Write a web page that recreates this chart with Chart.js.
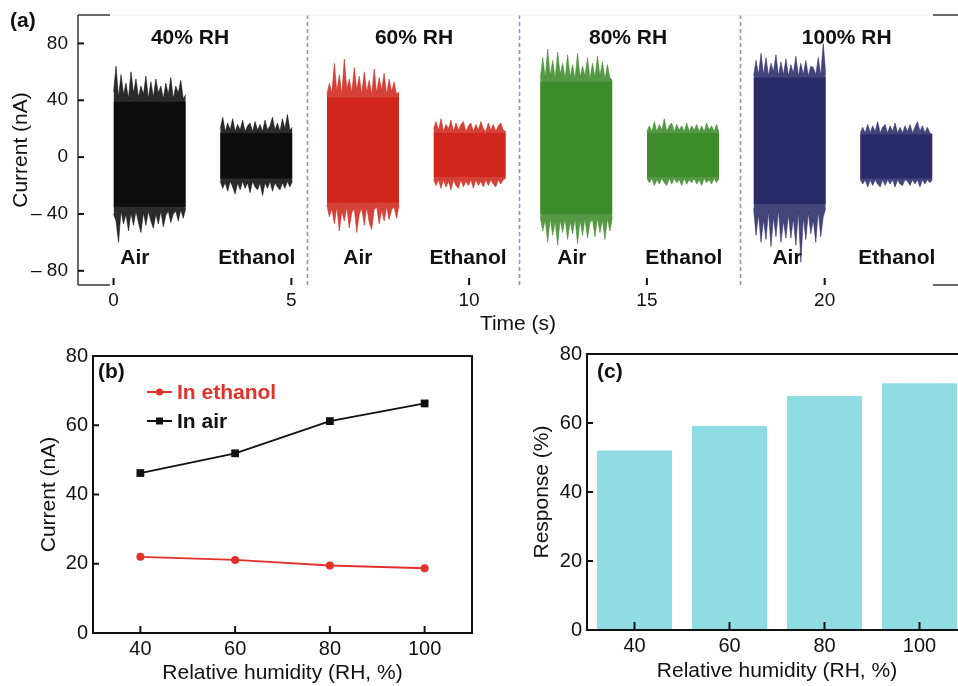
<!DOCTYPE html>
<html><head><meta charset="utf-8">
<script src="https://cdn.jsdelivr.net/npm/chart.js@4.4.1/dist/chart.umd.min.js"></script>
<style>
html,body{margin:0;padding:0;overflow:hidden;background:#fff}
body{width:958px;height:686px;position:relative}
.box{position:absolute}
</style></head><body>
<div class="box" style="left:0;top:0;width:958px;height:340px"><canvas id="ca"></canvas></div>
<div class="box" style="left:0;top:340px;width:480px;height:346px"><canvas id="cb"></canvas></div>
<div class="box" style="left:480px;top:340px;width:487px;height:346px"><canvas id="cc"></canvas></div>
<script>
// ---------------- DATA ----------------
// Panel (a): time axis / current axis ticks
const timeTicks = [0, 5, 10, 15, 20];
const currentTicksA = [-80, -40, 0, 40, 80];
const rhNames = ['40% RH', '60% RH', '80% RH', '100% RH'];
const segStart = [0, 3, 6, 9, 12, 15, 18, 21];   // s, start of each recording (Air, Ethanol per RH)
const segDur = 2.03;                                // s
const separatorT = [5.44, 11.40, 17.61];            // s, dashed separators

// envelopes of the noisy current traces (nA)
const air40Up = [46,64,42,58,44,52,41,60,45,55,42,50,44,57,41,53,42,55,45,50,41,52,44,56,41,50,45,54,41,44];
const air40Lo = [-40,-45,-60,-38,-47,-40,-52,-39,-48,-38,-46,-53,-39,-48,-38,-45,-50,-40,-47,-38,-49,-41,-38,-46,-40,-38,-45,-37,-43,-36];
const air40Core = [-35, 39];
const eth40Up = [20,28,18,24,19,27,18,23,19,26,18,22,24,18,25,19,23,18,26,19,22,28,19,24,18,27,20,30,19,21];
const eth40Lo = [-17,-22,-18,-24,-17,-21,-26,-18,-23,-17,-22,-18,-25,-17,-21,-23,-18,-27,-18,-22,-17,-24,-18,-21,-23,-18,-22,-17,-21,-17];
const eth40Core = [-15, 17];
const air60Up = [44,52,45,66,46,58,44,69,48,55,45,63,47,57,44,60,46,54,44,62,45,56,47,59,44,55,46,53,44,46];
const air60Lo = [-34,-42,-36,-47,-35,-52,-38,-45,-35,-50,-39,-36,-53,-40,-36,-48,-35,-46,-51,-37,-35,-47,-37,-45,-35,-44,-37,-35,-43,-34];
const air60Core = [-32, 42];
const eth60Up = [20,25,19,27,18,23,20,26,18,24,19,23,25,18,22,24,18,23,19,25,20,18,24,19,23,18,22,24,19,18];
const eth60Lo = [-16,-20,-16,-22,-16,-21,-17,-23,-16,-20,-22,-16,-21,-17,-20,-16,-22,-16,-20,-17,-21,-16,-20,-16,-19,-21,-16,-19,-16,-15];
const eth60Core = [-14, 17];
const air80Up = [55,70,56,76,57,68,55,74,58,66,55,72,56,65,55,73,56,64,57,70,55,66,56,71,57,67,55,65,56,54];
const air80Lo = [-42,-52,-44,-60,-43,-55,-45,-62,-44,-53,-43,-58,-45,-54,-43,-61,-44,-55,-43,-57,-46,-44,-56,-43,-53,-44,-58,-43,-52,-42];
const air80Core = [-40, 53];
const eth80Up = [18,22,18,25,18,23,19,27,18,22,24,18,23,19,22,18,24,18,22,19,23,18,22,18,24,19,22,18,23,17];
const eth80Lo = [-15,-18,-15,-20,-16,-19,-15,-18,-20,-15,-19,-15,-18,-16,-20,-15,-19,-16,-18,-15,-19,-16,-20,-15,-18,-16,-19,-15,-18,-15];
const eth80Core = [-14, 17];
const air100Up = [57,68,58,73,58,70,57,66,60,72,57,67,58,69,57,65,59,71,57,66,58,68,57,64,63,58,70,57,80,58];
const air100Lo = [-36,-55,-40,-60,-44,-58,-38,-63,-42,-56,-37,-60,-45,-57,-40,-57,-43,-62,-38,-74,-42,-58,-39,-54,-44,-60,-38,-56,-42,-36];
const air100Core = [-33, 56];
const eth100Up = [17,21,17,23,17,22,18,25,17,21,23,17,22,18,24,17,21,17,22,18,23,17,21,25,18,22,17,21,17,16];
const eth100Lo = [-16,-19,-16,-21,-16,-20,-16,-19,-21,-16,-20,-16,-19,-16,-21,-16,-19,-20,-16,-17,-20,-16,-19,-16,-21,-16,-19,-16,-18,-16];
const eth100Core = [-15, 16];

// Panel (b)
const rh = [40, 60, 80, 100];
const currentEthanol = [22.0, 21.1, 19.5, 18.7];
const currentAir = [46.2, 51.9, 61.2, 66.3];
const currentTicksB = [0, 20, 40, 60, 80];
const rhTicks = [40, 60, 80, 100];

// Panel (c)
const response = [52.0, 59.1, 67.8, 71.5];
const responseTicks = [0, 20, 40, 60, 80];

// ---------------- STYLE ----------------
const FONT = "'Liberation Sans', Arial, Helvetica, sans-serif";
Chart.defaults.font.family = FONT;
Chart.defaults.color = '#111';
Chart.defaults.animation = false;
const rhColors = ['#0e0e0e', '#d0271d', '#3e8b2b', '#2b2a69'];
function rgba(hex, a) {
  const n = parseInt(hex.slice(1), 16);
  return `rgba(${(n >> 16) & 255},${(n >> 8) & 255},${n & 255},${a})`;
}
function setTicks(arr) { return s => { s.ticks = arr.map(v => ({ value: v })); }; }
function fixSize(prop, val) {
  return s => { s[prop] = val; s.paddingTop = 0; s.paddingBottom = 0; s.paddingLeft = 0; s.paddingRight = 0; };
}

const decor = {
  id: 'decor',
  afterDraw(chart, args, o) {
    const { ctx, chartArea: a, scales: { x, y } } = chart;
    const line = (x1, y1, x2, y2) => { ctx.beginPath(); ctx.moveTo(x1, y1); ctx.lineTo(x2, y2); ctx.stroke(); };
    ctx.save();
    if (o.separators) {
      ctx.strokeStyle = '#7d9cc2'; ctx.lineWidth = 1.6; ctx.setLineDash([4, 3]);
      o.separators.forEach(t => { const px = Math.round(x.getPixelForValue(t)) + 0.5; line(px, a.top, px, a.bottom); });
      ctx.setLineDash([]);
    }
    if (o.frame === 'a') {
      ctx.strokeStyle = '#eeeeee'; ctx.lineWidth = 1;
      line(a.left + 32, a.top, a.right - 25, a.top);
      ctx.strokeStyle = '#444'; ctx.lineWidth = 1.6;
      line(a.left, a.top, a.left, a.bottom);
      line(a.left, a.top, a.left + 32, a.top);
      line(a.left, a.bottom, a.left + 32, a.bottom);
      line(a.right - 25, a.top, a.right, a.top);
      line(a.right - 25, a.bottom, a.right, a.bottom);
    } else if (o.frame === 'box') {
      ctx.strokeStyle = '#111'; ctx.lineWidth = 2;
      ctx.strokeRect(a.left, a.top, a.right - a.left, a.bottom - a.top);
    }
    ctx.strokeStyle = '#111'; ctx.lineWidth = 2;
    y.ticks.forEach(t => { const py = y.getPixelForValue(t.value); line(a.left, py, a.left + o.tickY, py); });
    x.ticks.forEach(t => { const px = x.getPixelForValue(t.value); line(px, a.bottom, px, a.bottom - o.tickX); });
    (o.texts || []).forEach(tx => {
      ctx.font = `bold 21px ${FONT}`;
      ctx.fillStyle = tx.color || '#111';
      ctx.textAlign = tx.align || 'center';
      ctx.textBaseline = 'middle';
      const px = tx.px !== undefined ? tx.px : x.getPixelForValue(tx.x);
      const py = tx.py !== undefined ? tx.py : y.getPixelForValue(tx.y);
      ctx.fillText(tx.text, px, py);
    });
    (o.legend || []).forEach(lg => {
      const ds = chart.data.datasets[lg.index];
      ctx.strokeStyle = ds.borderColor; ctx.lineWidth = 2;
      line(lg.px, lg.py, lg.px + 25, lg.py);
      ctx.fillStyle = ds.borderColor;
      if (ds.pointStyle === 'rect') ctx.fillRect(lg.px + 9, lg.py - 3.5, 7, 7);
      else { ctx.beginPath(); ctx.arc(lg.px + 12.5, lg.py, 3.5, 0, Math.PI * 2); ctx.fill(); }
      ctx.font = `bold 21px ${FONT}`;
      ctx.textAlign = 'left'; ctx.textBaseline = 'middle';
      ctx.fillText(ds.label, lg.px + 30, lg.py + 1);
    });
    ctx.restore();
  }
};
Chart.register(decor);

// ---------------- PANEL (a) ----------------
const segments = [
  [air40Up, air40Lo, air40Core], [eth40Up, eth40Lo, eth40Core],
  [air60Up, air60Lo, air60Core], [eth60Up, eth60Lo, eth60Core],
  [air80Up, air80Lo, air80Core], [eth80Up, eth80Lo, eth80Core],
  [air100Up, air100Lo, air100Core], [eth100Up, eth100Lo, eth100Core]
];
const dsA = [];
segments.forEach((seg, k) => {
  const start = segStart[k], col = rhColors[Math.floor(k / 2)];
  const env = arr => arr.map((v, i) => ({ x: start + segDur * i / (arr.length - 1), y: v }));
  const flat = v => [{ x: start, y: v }, { x: start + segDur, y: v }];
  const base = { pointRadius: 0, tension: 0, borderWidth: 0.8 };
  dsA.push({ ...base, data: env(seg[0]), borderColor: rgba(col, 0.7), backgroundColor: rgba(col, 0.88), fill: '+1' });
  dsA.push({ ...base, data: env(seg[1]), borderColor: rgba(col, 0.7), fill: false });
  dsA.push({ ...base, data: flat(seg[2][1]), borderWidth: 0, borderColor: col, backgroundColor: col, fill: '+1' });
  dsA.push({ ...base, data: flat(seg[2][0]), borderWidth: 0, borderColor: col, fill: false });
});
const textsA = [];
rhNames.forEach((n, i) => {
  textsA.push({ text: n, x: [2.15, 8.45, 14.47, 20.62][i], y: 83.5 });
  textsA.push({ text: 'Air', x: [0.6, 6.87, 12.89, 18.94][i], y: -71 });
  textsA.push({ text: 'Ethanol', x: [4.03, 9.97, 16.04, 22.03][i], y: -71 });
});
textsA.push({ text: '(a)', px: 10, py: 21, align: 'left' });

new Chart(document.getElementById('ca'), {
  type: 'line',
  data: { datasets: dsA },
  options: {
    responsive: true, maintainAspectRatio: false, devicePixelRatio: 1,
    parsing: false, normalized: true,
    layout: { padding: { top: 15, left: 0, right: 0, bottom: 0 } },
    plugins: { legend: { display: false }, tooltip: { enabled: false },
      decor: { frame: 'a', separators: separatorT, tickX: 7, tickY: 6, texts: textsA } },
    events: [],
    scales: {
      x: { type: 'linear', min: -1, max: 23.75, afterBuildTicks: setTicks(timeTicks),
        grid: { display: false, drawTicks: false }, border: { display: false },
        ticks: { padding: 4, font: { size: 19 }, color: '#111' },
        title: { display: true, text: 'Time (s)', font: { size: 21 }, color: '#111', padding: { top: 0, bottom: 3 } },
        afterFit: fixSize('height', 55) },
      y: { type: 'linear', min: -90, max: 100, afterBuildTicks: setTicks(currentTicksA),
        grid: { display: false, drawTicks: false }, border: { display: false },
        ticks: { padding: 10, font: { size: 19 }, color: '#111',
          callback: v => v < 0 ? '\u2013 ' + Math.abs(v) : String(v) },
        title: { display: true, text: 'Current (nA)', font: { size: 21 }, color: '#111', padding: { top: 9, bottom: 0 } },
        afterFit: fixSize('width', 78) }
    }
  }
});

// ---------------- PANEL (b) ----------------
new Chart(document.getElementById('cb'), {
  type: 'line',
  data: { datasets: [
    { label: 'In ethanol', data: rh.map((v, i) => ({ x: v, y: currentEthanol[i] })),
      borderColor: '#e2312a', backgroundColor: '#e2312a', borderWidth: 1.8,
      pointStyle: 'circle', pointRadius: 4, pointBorderWidth: 0, tension: 0 },
    { label: 'In air', data: rh.map((v, i) => ({ x: v, y: currentAir[i] })),
      borderColor: '#111111', backgroundColor: '#111111', borderWidth: 1.8,
      pointStyle: 'rect', pointRadius: 5.5, pointBorderWidth: 0, tension: 0 }
  ] },
  options: {
    responsive: true, maintainAspectRatio: false, devicePixelRatio: 1, events: [],
    layout: { padding: { top: 16, left: 0, right: 8, bottom: 0 } },
    plugins: { legend: { display: false }, tooltip: { enabled: false },
      decor: { frame: 'box', tickX: 7, tickY: 6,
        texts: [{ text: '(b)', px: 98, py: 32, align: 'left' }],
        legend: [{ index: 0, px: 147, py: 52 }, { index: 1, px: 147, py: 81 }] } },
    scales: {
      x: { type: 'linear', min: 30, max: 110, afterBuildTicks: setTicks(rhTicks),
        grid: { display: false, drawTicks: false }, border: { display: false },
        ticks: { padding: 4, font: { size: 20 }, color: '#111' },
        title: { display: true, text: 'Relative humidity (RH, %)', font: { size: 21 }, color: '#111', padding: { top: 0, bottom: 0 } },
        afterFit: fixSize('height', 53) },
      y: { type: 'linear', min: 0, max: 80, afterBuildTicks: setTicks(currentTicksB),
        grid: { display: false, drawTicks: false }, border: { display: false },
        ticks: { padding: 5, font: { size: 20 }, color: '#111' },
        title: { display: true, text: 'Current (nA)', font: { size: 21 }, color: '#111', padding: { top: 37, bottom: 0 } },
        afterFit: fixSize('width', 93) }
    }
  }
});

// ---------------- PANEL (c) ----------------
new Chart(document.getElementById('cc'), {
  type: 'bar',
  data: { datasets: [
    { label: 'Response', data: rh.map((v, i) => ({ x: v, y: response[i] })),
      backgroundColor: '#8fdce2', borderWidth: 0, categoryPercentage: 1, barPercentage: 0.79 }
  ] },
  options: {
    responsive: true, maintainAspectRatio: false, devicePixelRatio: 1, events: [],
    layout: { padding: { top: 14, left: 0, right: 0, bottom: 0 } },
    plugins: { legend: { display: false }, tooltip: { enabled: false },
      decor: { frame: 'box', tickX: 8, tickY: 6,
        texts: [{ text: '(c)', px: 117, py: 32, align: 'left' }] } },
    scales: {
      x: { type: 'linear', offset: false, min: 30, max: 110, afterBuildTicks: setTicks(rhTicks),
        grid: { display: false, drawTicks: false, offset: false }, border: { display: false },
        ticks: { padding: 4, font: { size: 20 }, color: '#111' },
        title: { display: true, text: 'Relative humidity (RH, %)', font: { size: 21 }, color: '#111', padding: { top: 0, bottom: 2 } },
        afterFit: fixSize('height', 56) },
      y: { type: 'linear', min: 0, max: 80, afterBuildTicks: setTicks(responseTicks),
        grid: { display: false, drawTicks: false }, border: { display: false },
        ticks: { padding: 5, font: { size: 20 }, color: '#111' },
        title: { display: true, text: 'Response (%)', font: { size: 21 }, color: '#111', padding: { top: 50, bottom: 0 } },
        afterFit: fixSize('width', 107) }
    }
  }
});
</script>
</body></html>
